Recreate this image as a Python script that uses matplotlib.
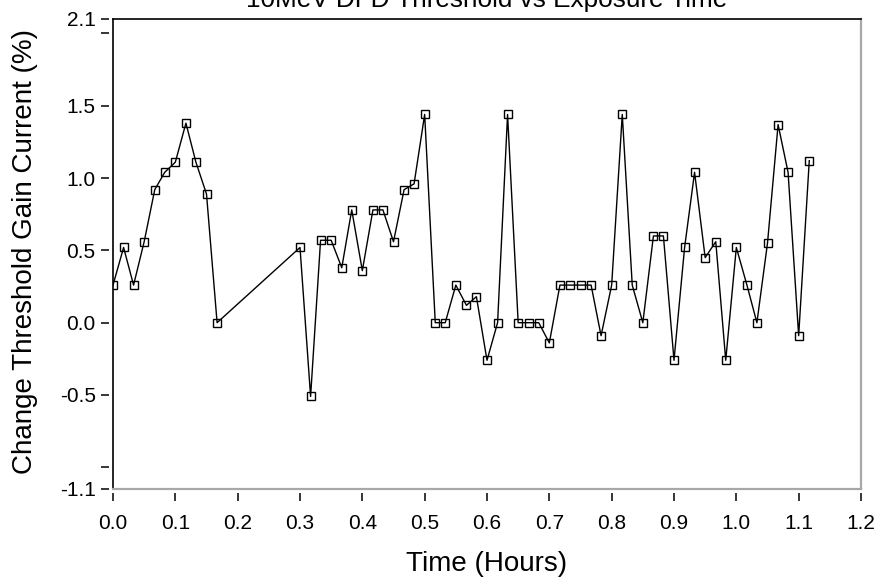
import matplotlib
matplotlib.use("Agg")
import matplotlib.pyplot as plt

# ---- data ----
time_hours = [0.000, 0.017, 0.033, 0.050, 0.067, 0.083, 0.100, 0.117, 0.133, 0.150, 0.167,
              0.300, 0.317, 0.333, 0.350, 0.367, 0.383, 0.400, 0.417, 0.433, 0.450,
              0.467, 0.483, 0.500, 0.517, 0.533, 0.550, 0.567, 0.583, 0.600, 0.617,
              0.633, 0.650, 0.667, 0.683, 0.700, 0.717, 0.733, 0.750, 0.767, 0.783,
              0.800, 0.817, 0.833, 0.850, 0.867, 0.883, 0.900, 0.917, 0.933, 0.950,
              0.967, 0.983, 1.000, 1.017, 1.033, 1.050, 1.067, 1.083, 1.100, 1.117]
change_pct = [0.26, 0.52, 0.26, 0.56, 0.92, 1.04, 1.11, 1.38, 1.11, 0.89, 0.00,
              0.52, -0.51, 0.57, 0.57, 0.38, 0.78, 0.36, 0.78, 0.78, 0.56,
              0.92, 0.96, 1.44, 0.00, 0.00, 0.26, 0.12, 0.18, -0.26, 0.00,
              1.44, 0.00, 0.00, 0.00, -0.14, 0.26, 0.26, 0.26, 0.26, -0.09,
              0.26, 1.44, 0.26, 0.00, 0.60, 0.60, -0.26, 0.52, 1.04, 0.45,
              0.56, -0.26, 0.52, 0.26, 0.00, 0.55, 1.37, 1.04, -0.09, 1.12]

x_ticks = [0.0, 0.1, 0.2, 0.3, 0.4, 0.5, 0.6, 0.7, 0.8, 0.9, 1.0, 1.1, 1.2]
x_tick_labels = ["0.0", "0.1", "0.2", "0.3", "0.4", "0.5", "0.6", "0.7", "0.8", "0.9", "1.0", "1.1", "1.2"]
y_ticks = [-1.15, -0.5, 0.0, 0.5, 1.0, 1.5, 2.1]
y_tick_labels = ["-1.1", "-0.5", "0.0", "0.5", "1.0", "1.5", "2.1"]
y_minor_ticks = [-1.0, 2.0]

title = "10MeV DFD Threshold vs Exposure Time"
x_label = "Time (Hours)"
y_label = "Change Threshold Gain Current (%)"

# ---- figure ----
W, H = 880, 580
fig = plt.figure(figsize=(W / 100, H / 100), dpi=100)
fig.patch.set_facecolor("white")
L, R, T, B = 113, 861, 19, 489
pos = [L / W, 1 - B / H, (R - L) / W, (B - T) / H]
ax = fig.add_axes(pos)

font = ["Liberation Sans", "DejaVu Sans"]

ax.plot(time_hours, change_pct, color="black", lw=1.0,
        marker="s", markersize=5.5, markerfacecolor="none",
        markeredgecolor="black", markeredgewidth=1.0)

ax.set_xlim(0.0, 1.2)
ax.set_ylim(-1.15, 2.1)
ax.tick_params(which="both", bottom=False, left=False,
               labelbottom=False, labelleft=False)

for side in ("top", "left"):
    ax.spines[side].set_color("black")
    ax.spines[side].set_linewidth(1.2)
for side in ("bottom", "right"):
    ax.spines[side].set_color("#a8a8a8")
    ax.spines[side].set_linewidth(1.6)

# overlay axes carrying the ticks, set slightly away from the frame
axt = fig.add_axes(pos, sharex=ax, sharey=ax, frameon=False)
axt.patch.set_alpha(0)
axt.spines["bottom"].set_position(("outward", 3))
axt.spines["left"].set_position(("outward", 3))
axt.set_xticks(x_ticks)
axt.set_xticklabels(x_tick_labels, fontfamily=font, fontsize=15)
axt.set_yticks(y_ticks)
axt.set_yticklabels(y_tick_labels, fontfamily=font, fontsize=15)
axt.set_yticks(y_minor_ticks, minor=True)
axt.set_xticks([], minor=True)
axt.tick_params(axis="x", which="major", direction="out", length=6, width=1.1,
                pad=9, colors="black")
axt.tick_params(axis="y", which="both", direction="out", length=6, width=1.1,
                pad=3.5, colors="black")

fig.text((L + R) / 2 / W, 1 - 7 / H, title, ha="center", va="baseline",
         fontfamily=font, fontsize=18.8)
fig.text((L + R) / 2 / W, 1 - 564 / H, x_label, ha="center", va="center",
         fontfamily=font, fontsize=20)
fig.text(25 / W, 1 - 252 / H, y_label, ha="center", va="center", rotation=90,
         fontfamily=font, fontsize=20)

fig.savefig("out.png", dpi=100, facecolor="white")
